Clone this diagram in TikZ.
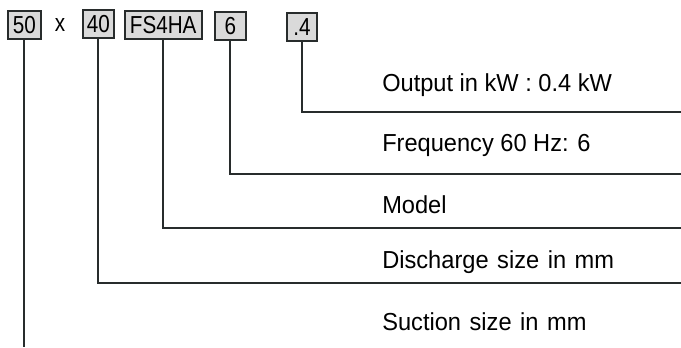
\documentclass[tikz,border=0pt]{standalone}
\usepackage{fontspec}
\setmainfont{Liberation Sans}
\newfontfamily\descfont[FakeStretch=0.96]{Liberation Sans}
\newfontfamily\descwidefont[FakeStretch=0.961, WordSpace=1.3]{Liberation Sans}
\newfontfamily\codefont[FakeStretch=0.84]{Liberation Sans}
\usepackage{xcolor}
\definecolor{boxgray}{RGB}{218,218,218}
\definecolor{inkgray}{RGB}{40,44,44}
\usetikzlibrary{positioning}

\tikzset{
  codebox/.style={draw=inkgray, line width=1.3pt, fill=boxgray, inner sep=0pt,
    minimum height=0.7cm, font=\codefont\fontsize{17.5}{19}\selectfont},
  lead/.style={draw=inkgray, line width=1.3pt},
  desc/.style={anchor=west, inner sep=0pt, font=\descfont\fontsize{17.5}{19}\selectfont},
  descwide/.style={desc, font=\descwidefont\fontsize{17.5}{19}\selectfont}
}

\begin{document}
\begin{tikzpicture}
  \useasboundingbox (0,0) rectangle (17.025,8.675);

  % --- Type code boxes ---
  \node[codebox, minimum width=0.83cm] (b50) at (0.61,8.06) {50};
  \node[font=\codefont\fontsize{17.5}{19}\selectfont] (times) at (1.5,8.06) {x};
  \node[codebox, minimum width=0.78cm] (b40) at (2.46,8.08) {40};
  \node[codebox, minimum width=1.93cm] (bmodel) at (4.08,8.04) {FS4HA};
  \node[codebox, minimum width=0.78cm] (bfreq) at (5.76,8.02) {6};
  \node[codebox, minimum width=0.76cm] (bkw) at (7.55,8.0) {.4};

  % --- Line ends at the right edge ---
  \coordinate (ekw) at (17.025,5.875);
  \coordinate (efreq) at (17.025,4.325);
  \coordinate (emodel) at (17.025,2.975);
  \coordinate (e40) at (17.025,1.6);
  \coordinate (e50) at (0.61,0);

  % --- Leader lines ---
  \draw[lead] (bkw.south) |- (ekw);
  \draw[lead] (bfreq.south) |- (efreq);
  \draw[lead] (bmodel.south) |- (emodel);
  \draw[lead] (b40.south) |- (e40);
  \draw[lead] (b50.south) -- (e50);

  % --- Descriptions ---
  \node[desc] (dkw) at (9.55,6.55) {Output in kW : 0.4 kW};
  \node[desc] (dfreq) at (9.55,5.05) {Frequency 60 Hz: 6};
  \node[desc] (dmodel) at (9.55,3.55) {Model};
  \node[descwide] (d40) at (9.55,2.125) {Discharge size in mm};
  \node[descwide] (d50) at (9.55,0.625) {Suction size in mm};
\end{tikzpicture}
\end{document}
